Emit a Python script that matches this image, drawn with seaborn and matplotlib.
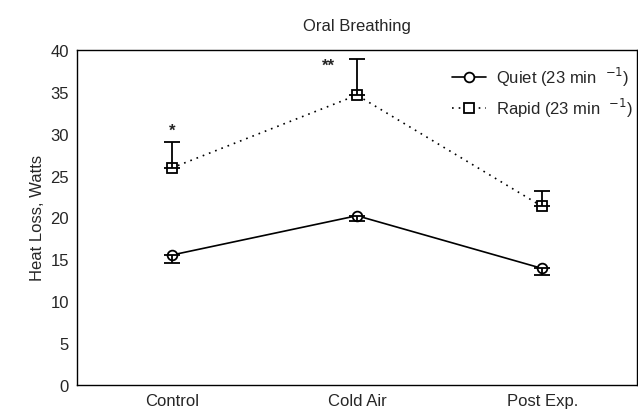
import numpy as np
import pandas as pd
import seaborn as sns
import matplotlib.pyplot as plt

conditions = ["Control", "Cold Air", "Post Exp."]
quiet = [15.5, 20.2, 13.9]
quiet_err = [0.9, 0.6, 0.8]
rapid = [25.9, 34.6, 21.3]
rapid_err = [3.1, 4.3, 1.9]

sns.set_style("white")
plt.rcParams['font.family'] = ['Liberation Sans', 'DejaVu Sans']

df = pd.DataFrame({
    "x": list(range(3)) * 2,
    "y": quiet + rapid,
    "group": ["Quiet (23 min  $^{-1}$)"] * 3 + ["Rapid (23 min  $^{-1}$)"] * 3,
})

fig, ax = plt.subplots(figsize=(6.38, 4.14), dpi=100)
fig.subplots_adjust(left=0.121, right=0.998, top=0.877, bottom=0.068)

sns.lineplot(data=df, x="x", y="y", hue="group", style="group",
             palette=["black", "black"], markers=["o", "s"],
             dashes=[(None, None), (1, 3)], markersize=7,
             markerfacecolor="white", markeredgecolor="black",
             markeredgewidth=1.3, linewidth=1.2, ax=ax)

x = np.arange(3)
ax.errorbar(x, quiet, yerr=[quiet_err, [0, 0, 0]], fmt="none",
            ecolor="black", elinewidth=1.3, capsize=6, capthick=1.3)
ax.errorbar(x, rapid, yerr=[[0, 0, 0], rapid_err], fmt="none",
            ecolor="black", elinewidth=1.3, capsize=6, capthick=1.3)

ax.text(0, rapid[0] + rapid_err[0] + 0.5, "*", ha="center", va="bottom",
        fontsize=12, fontweight="bold")
ax.text(0.88, rapid[1] + rapid_err[1] - 1.6, "**", ha="right", va="bottom",
        fontsize=12, fontweight="bold")

ax.set_xlim(-0.51, 2.51)
ax.set_ylim(0, 40)
ax.set_yticks(range(0, 41, 5))
ax.set_xticks(x)
ax.set_xticklabels(conditions)
ax.tick_params(axis="both", length=0, labelsize=12, pad=6)
ax.set_xlabel("")
ax.set_ylabel("Heat Loss, Watts", fontsize=12)
ax.set_title("Oral Breathing", fontsize=12, pad=14)
for s in ax.spines.values():
    s.set_color("black")
    s.set_linewidth(1.0)

leg = ax.legend(loc="upper right", frameon=False, fontsize=12,
                handlelength=2.0, labelspacing=0.45, handletextpad=0.6,
                bbox_to_anchor=(1.02, 1.0))

fig.savefig("out.png", dpi=100)
